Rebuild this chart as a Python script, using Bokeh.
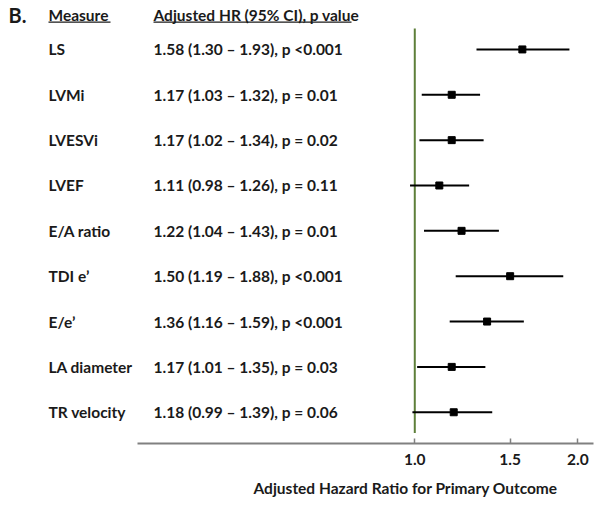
from bokeh.plotting import figure
from bokeh.layouts import row
from bokeh.models import (Range1d, LinearScale, FixedTicker, PrintfTickFormatter,
                          ColumnDataSource)
from bokeh.core.properties import value
from bokeh.embed import file_html
from bokeh.resources import INLINE

# ---------------- data ----------------
measures = ["LS", "LVMi", "LVESVi", "LVEF", "E/A ratio", "TDI e\u2019", "E/e\u2019",
            "LA diameter", "TR velocity"]
hr = [1.58, 1.17, 1.17, 1.11, 1.22, 1.50, 1.36, 1.17, 1.18]
ci_low = [1.30, 1.03, 1.02, 0.98, 1.04, 1.19, 1.16, 1.01, 0.99]
ci_high = [1.93, 1.32, 1.34, 1.26, 1.43, 1.88, 1.59, 1.35, 1.39]
p_values = ["<0.001", "= 0.01", "= 0.02", "= 0.11", "= 0.01", "<0.001", "<0.001",
            "= 0.03", "= 0.06"]
x_ticks = [1.0, 1.5, 2.0]
panel_label = "B."
col1_header = "Measure"
col2_header = "Adjusted HR (95% CI), p value"
x_title = "Adjusted Hazard Ratio for Primary Outcome"

# ---------------- layout / style ----------------
FONT = "Lato"
FS = "15.5px"
TXT = "#1a1a1a"
GREEN = "#5e7f3a"
n = len(measures)
rows = list(range(n))
hr_text = [f"{h:.2f} ({l:.2f} \u2013 {u:.2f}), p {pv}"
           for h, l, u, pv in zip(hr, ci_low, ci_high, p_values)]

H = 506
BOTTOM = 63
y_range = Range1d(8.689, -1.079)
hdr_y = -0.75
ul_y = -0.6

common = dict(height=H, y_range=y_range, y_axis_location=None,
              output_backend="svg", toolbar_location=None,
              min_border_top=0, min_border_bottom=BOTTOM, outline_line_color=None)

# ---------- left panel: measure names ----------
left = figure(width=137, x_range=Range1d(0, 137), x_axis_location=None,
              min_border_left=0, min_border_right=0, **common)
left.grid.visible = False
lsrc = ColumnDataSource(dict(y=rows, m=measures, x=[48] * n))
left.text(x="x", y="y", text="m", source=lsrc, text_font=value(FONT),
          text_font_style="bold", text_font_size=FS, text_color=TXT,
          text_baseline="middle", text_align="left")
left.text(x=[8], y=[hdr_y], text=[panel_label], text_font=value(FONT),
          text_font_style="bold", text_font_size="20px", text_color=TXT,
          text_baseline="middle")
left.text(x=[48], y=[hdr_y], text=[col1_header], text_font=value(FONT),
          text_font_style="bold", text_font_size=FS, text_color=TXT,
          text_baseline="middle")
left.segment(x0=[48], x1=[110], y0=[ul_y], y1=[ul_y], line_color=TXT, line_width=1.3)

# ---------- right panel: HR text + forest plot ----------
p = figure(width=465, x_axis_type="log", x_range=Range1d(0.3076, 2.138),
           min_border_left=0, min_border_right=9, title_location="below", **common)
p.grid.visible = False
p.extra_x_ranges = {"px": Range1d(137, 593)}
p.extra_x_scales = {"px": LinearScale()}

p.segment(x0=[1.0], x1=[1.0], y0=[rows[0] - 0.46], y1=[rows[-1] + 0.46],
          line_color=GREEN, line_width=2)

src = ColumnDataSource(dict(y=rows, hr=hr, lo=ci_low, hi=ci_high, t=hr_text,
                            xt=[153] * n))
p.segment(x0="lo", x1="hi", y0="y", y1="y", source=src, line_color="black",
          line_width=2)
p.scatter(x="hr", y="y", source=src, marker="square", size=7, color="black")
p.text(x="xt", y="y", text="t", source=src, x_range_name="px",
       text_font=value(FONT), text_font_style="bold", text_font_size=FS,
       text_color=TXT, text_baseline="middle", text_align="left")
p.text(x=[153], y=[hdr_y], text=[col2_header], x_range_name="px",
       text_font=value(FONT), text_font_style="bold", text_font_size=FS,
       text_color=TXT, text_baseline="middle")
p.segment(x0=[153], x1=[351], y0=[ul_y], y1=[ul_y], x_range_name="px",
          line_color=TXT, line_width=1.3)

ax = p.xaxis[0]
ax.ticker = FixedTicker(ticks=x_ticks, minor_ticks=[])
ax.formatter = PrintfTickFormatter(format="%.1f")
ax.axis_line_color = "#808080"
ax.axis_line_width = 2
ax.major_tick_in = 5
ax.major_tick_out = 0
ax.major_tick_line_color = "#808080"
ax.major_tick_line_width = 1.5
ax.minor_tick_line_color = None
ax.major_label_text_font = FONT
ax.major_label_text_font_style = "bold"
ax.major_label_text_font_size = FS
ax.major_label_text_color = TXT
ax.major_label_standoff = 10

p.title.text = x_title
p.title.align = "left"
p.title.offset = 116
p.title.text_font = FONT
p.title.text_font_style = "bold"
p.title.text_font_size = FS
p.title.text_color = TXT
p.title.standoff = 19

layout = row(left, p)
open("out.html", "w").write(file_html(layout, INLINE))
